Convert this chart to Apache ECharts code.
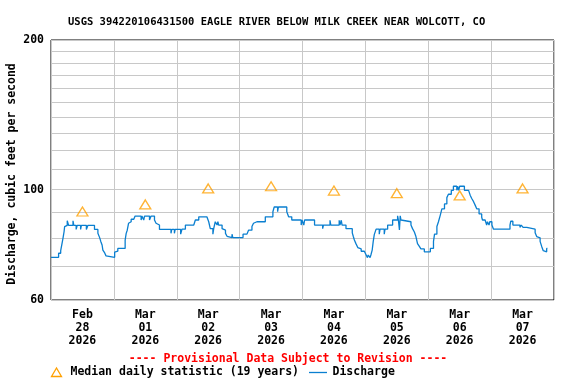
<!DOCTYPE html>
<html>
<head>
<meta charset="utf-8">
<script src="https://cdn.jsdelivr.net/npm/echarts@6/dist/echarts.min.js"></script>
<style>html,body{margin:0;padding:0;background:#fff}#c{width:576px;height:384px}</style>
</head>
<body>
<div id="c"></div>
<script>
// Hours since 2026-02-28 00:00 (breakpoints of the stepped discharge record)
const hours = [0,2.9,3.7,4.2,4.6,5.0,5.2,5.5,6.2,6.7,8.4,8.7,9.6,10.0,11.3,11.6,13.5,14.1,16.6,17.9,18.6,19.0,19.5,19.8,20.5,21.0,21.4,24.3,24.9,25.5,28.3,28.7,29.1,29.6,30.0,30.6,31.6,32.1,34.4,34.7,35.4,35.7,37.6,38.2,39.5,40.1,40.8,41.4,45.8,46.1,47.1,47.4,49.5,50.0,51.3,54.5,55.1,56.4,59.5,60.2,60.8,61.8,62.1,62.7,63.4,63.7,64.0,65.3,65.9,66.6,67.2,67.8,69.1,69.4,73.3,74.8,75.4,76.7,77.3,78.0,78.6,78.9,80.2,80.5,81.8,84.7,85.2,86.5,86.8,90.0,90.7,91.9,95.5,95.8,96.5,96.8,100.6,103.7,104.0,106.5,106.8,110.0,110.3,110.8,111.1,112.6,115.0,115.4,115.8,116.4,117.1,117.7,118.4,119.6,120.3,120.8,121.1,121.8,122.1,122.6,123.0,123.4,124.1,125.3,125.6,127.2,127.5,128.5,130.4,132.3,132.6,133.0,133.3,133.6,134.2,137.4,138.0,138.7,139.3,139.9,140.6,141.2,142.5,144.8,146.0,146.4,147.3,147.9,148.6,149.2,150.2,151.1,151.7,152.8,153.6,154.9,155.2,155.6,156.0,157.8,159.4,160.0,160.6,161.3,161.9,162.5,163.4,164.4,164.7,165.7,166.3,166.6,167.2,167.5,168.3,168.9,175.2,175.5,176.3,179.0,179.5,180.2,181.6,184.8,185.4,186.0,186.7,187.3,187.9,188.5,189.2,189.5];
// Discharge, cubic feet per second
const discharge = [73.1,74.5,75.4,77.9,80.0,82.4,84.3,84.8,86.6,84.8,86.6,84.8,83.2,84.8,83.2,84.8,83.2,84.8,83.2,81.7,80.0,78.7,77.4,75.6,74.6,73.6,73.1,74.9,75.2,76.2,79.2,81.7,82.9,85.6,86.2,87.2,87.6,88.5,86.9,88.5,86.9,88.5,86.9,88.5,86.9,85.6,84.9,83.2,81.7,83.2,81.7,83.2,81.4,83.3,84.9,85.6,86.9,88.2,87.6,86.2,83.5,81.4,83.5,86.2,84.9,86.2,84.9,83.5,82.9,81.7,80.6,80.1,81.4,80.1,81.4,82.0,82.9,84.3,85.6,86.2,86.9,86.2,86.9,86.2,88.2,90.3,92.3,90.3,92.3,90.3,88.2,86.9,84.9,86.9,84.9,86.9,84.9,83.5,84.9,86.8,84.9,86.8,84.9,86.8,84.9,83.5,81.9,80.5,79.2,77.9,76.5,76.0,75.2,75.0,73.9,73.0,73.9,73.0,73.9,75.6,78.7,81.2,83.3,81.4,83.3,81.4,83.3,84.9,86.9,88.6,86.9,83.0,88.6,86.9,86.2,84.9,83.5,82.2,80.5,77.9,76.9,76.0,75.0,76.2,78.7,81.4,84.3,86.2,88.9,91.5,93.6,96.4,97.9,99.7,101.6,99.7,101.6,99.7,101.6,99.7,99.2,97.5,96.0,94.6,93.1,91.5,89.4,88.0,86.9,86.2,84.9,86.2,84.9,86.2,84.9,83.3,84.9,86.4,84.9,84.0,84.9,84.0,83.3,81.9,80.5,80.0,78.7,76.9,75.4,75.0,76.2,76.2];
// Median daily statistic at noon of each day
const medianHours = [12,36,60,84,108,132,156,180];
const medianValues = [90.4,93.4,100.6,101.6,99.6,98.4,97.4,100.6];
// Axis tick labels
const xLabels = ['Feb\n28\n2026','Mar\n01\n2026','Mar\n02\n2026','Mar\n03\n2026','Mar\n04\n2026','Mar\n05\n2026','Mar\n06\n2026','Mar\n07\n2026'];
const yGridValues = [60,70,80,90,100,110,120,130,140,150,160,170,180,190,200];
const yLabelValues = [60,100,200];

const MONO = '"DejaVu Sans Mono", "Liberation Mono", monospace';
const chart = echarts.init(document.getElementById('c'), null, {renderer:'canvas'});
const dischargeData = hours.map((h,i)=>[h, discharge[i]]);
const medianData = medianHours.map((h,i)=>[h, medianValues[i]]);

chart.setOption({
  animation:false,
  backgroundColor:'#fff',
  title:{
    text:'USGS 394220106431500 EAGLE RIVER BELOW MILK CREEK NEAR WOLCOTT, CO',
    left:63, top:11,
    textStyle:{fontFamily:MONO, fontSize:10.5, fontWeight:'bold', color:'#000', lineHeight:12}
  },
  grid:{left:51, right:22, top:40, bottom:84, show:true, borderColor:'#000', borderWidth:1, backgroundColor:'transparent', containLabel:false, outerBoundsMode:'none'},
  xAxis:{
    type:'value', min:0, max:192, interval:24,
    axisLine:{show:false},
    axisTick:{show:false},
    splitLine:{show:true, lineStyle:{color:'#c8c8c8', width:1}},
    axisLabel:{
      customValues:[12,36,60,84,108,132,156,180],
      formatter:(v)=>xLabels[Math.round((v-12)/24)],
      fontFamily:MONO, fontSize:11.5, fontWeight:'bold', color:'#000', lineHeight:13, margin:9
    }
  },
  yAxis:{
    type:'log', logBase:10, min:60, max:200,
    name:'Discharge, cubic feet per second', nameLocation:'middle', nameGap:33,
    nameMoveOverlap:false,
    nameTextStyle:{fontFamily:MONO, fontSize:11.5, fontWeight:'bold', color:'#000', padding:[0,8,0,0]},
    axisLine:{show:false},
    axisTick:{show:false, customValues:yGridValues},
    splitLine:{show:true, lineStyle:{color:'#c8c8c8', width:1}},
    axisLabel:{
      customValues:yLabelValues,
      formatter:(v)=>String(Math.round(v)),
      fontFamily:MONO, fontSize:11.5, fontWeight:'bold', color:'#000', margin:7
    }
  },
  series:[
    {
      name:'Discharge', type:'line', step:'end', data:dischargeData,
      showSymbol:false, symbol:'none',
      lineStyle:{color:'#0a7fd0', width:1.3},
      z:3
    },
    {
      name:'Median daily statistic (19 years)', type:'scatter', data:medianData,
      symbol:'triangle', symbolSize:[11,9],
      itemStyle:{color:'rgba(255,255,255,0)', borderColor:'#ffa000', borderWidth:1.3},
      z:4
    }
  ],
  graphic:[
    {type:'text', left:'center', top:353, style:{text:'---- Provisional Data Subject to Revision ----', fill:'#ff0000', font:'bold 11.5px '+MONO, x:301, textAlign:'center'}},
    {type:'polygon', shape:{points:[[51.5,376.5],[61.5,376.5],[56.5,368]]}, style:{fill:'none', stroke:'#ffa000', lineWidth:1.3}},
    {type:'text', x:70.5, y:366, style:{text:'Median daily statistic (19 years)', fill:'#000', font:'bold 11.5px '+MONO}},
    {type:'line', shape:{x1:309, y1:372.5, x2:327, y2:372.5}, style:{stroke:'#0a7fd0', lineWidth:1.3}},
    {type:'text', x:332.5, y:366, style:{text:'Discharge', fill:'#000', font:'bold 11.5px '+MONO}}
  ]
});
</script>
</body>
</html>
